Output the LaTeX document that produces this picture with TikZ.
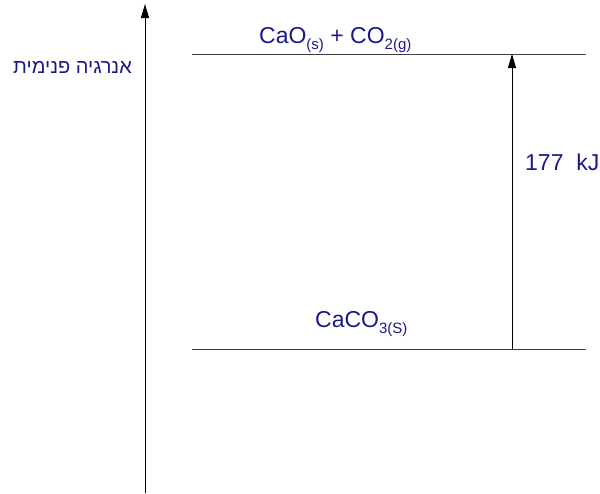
\documentclass[tikz,border=0pt]{standalone}
\usepackage{fontspec}
\setmainfont{Liberation Sans}
\newfontfamily\hebfont[Script=Hebrew]{Liberation Sans}
\TeXXeTstate=1
\usetikzlibrary{arrows.meta}
\definecolor{txtblue}{RGB}{25,25,140}
\newcommand{\chemsub}[1]{\raisebox{-0.28em}{\fontsize{15}{15}\selectfont #1}}
\tikzset{
  lbl/.style={inner sep=0pt, text=txtblue, font=\fontsize{23}{23}\selectfont, anchor=base west},
  level/.style={line width=1pt, draw=black!75},
  arr/.style={line width=1pt, -{Triangle[length=14pt,width=8pt]}}
}
\begin{document}
\begin{tikzpicture}[x=1pt,y=-1pt]
\useasboundingbox (0,0) rectangle (600,493);
\coordinate (axb) at (145,493);
\coordinate (axt) at (145,4);
\draw[arr] (axb) -- (axt);
\coordinate (tl) at (192,54);
\coordinate (tr) at (586,54);
\coordinate (bl) at (192,349);
\coordinate (br) at (586,349);
\draw[level] (tl) -- (tr);
\draw[level] (bl) -- (br);
\coordinate (ab) at (512,349);
\coordinate (at) at (512,54);
\draw[arr] (ab) -- (at);
\node[lbl] (top) at (259,43) {CaO\chemsub{(s)} + CO\chemsub{2(g)}};
\node[lbl] (bot) at (315,327) {CaCO\chemsub{3(S)}};
\node[lbl] (dh) at (525,170) {177\ \ kJ};
\node[inner sep=0pt, text=txtblue, font=\hebfont\fontsize{20}{20}\selectfont, anchor=base east] (heb) at (132,73) {\beginR אנרגיה פנימית\endR};
\end{tikzpicture}
\end{document}
